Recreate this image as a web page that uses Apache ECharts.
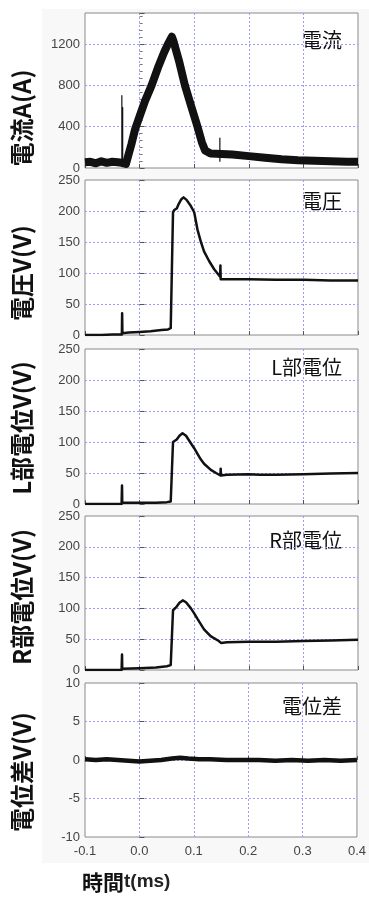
<!DOCTYPE html>
<html>
<head>
<meta charset="utf-8">
<script src="https://cdn.jsdelivr.net/npm/echarts@6/dist/echarts.min.js"></script>
<style>
  html, body { margin: 0; padding: 0; background: #fff; }
  #main { width: 369px; height: 899px; }
</style>
</head>
<body>
<div id="main"></div>
<script>
// time axis (ms)
var xTicks = [-0.1, 0.0, 0.1, 0.2, 0.3, 0.4];

// 電流 (A)
var currentT = [-0.1, -0.09, -0.08, -0.07, -0.06, -0.05, -0.04, -0.033, -0.025, -0.015, -0.008, 0.0, 0.01, 0.022, 0.035, 0.045, 0.051, 0.056, 0.059, 0.062, 0.065, 0.072, 0.083, 0.095, 0.106, 0.114, 0.12, 0.13, 0.15, 0.17, 0.2, 0.23, 0.26, 0.29, 0.32, 0.35, 0.38, 0.4];
var currentV = [55, 60, 45, 65, 50, 60, 55, 50, 40, 230, 380, 500, 650, 800, 990, 1120, 1190, 1240, 1270, 1230, 1170, 1040, 800, 590, 400, 250, 170, 140, 135, 130, 115, 100, 85, 75, 70, 65, 60, 60];
var currentSpikeT = [-0.0325, -0.031, 0.147];
var currentSpikeV = [700, 585, 290];

// 電圧 (V)
var voltT = [-0.1, -0.07, -0.05, -0.0325, -0.032, -0.0315, -0.02, 0.0, 0.02, 0.04, 0.052, 0.057, 0.0605, 0.0612, 0.064, 0.068, 0.072, 0.0765, 0.0805, 0.086, 0.0939, 0.1, 0.106, 0.112, 0.118, 0.1275, 0.1366, 0.1475, 0.148, 0.1485, 0.16, 0.2, 0.25, 0.3, 0.35, 0.4];
var voltV = [0, 0, 1, 1, 35, 3, 4, 5, 6, 8, 9, 11, 14, 198, 202, 204, 212, 219, 222, 218, 208, 198, 170, 151, 135, 119, 106, 94, 112, 90, 90, 90, 89, 89, 88, 88];

// L部電位 (V)
var leftT = [-0.1, -0.033, -0.0322, -0.0318, 0.0, 0.03, 0.05, 0.057, 0.0605, 0.0612, 0.064, 0.068, 0.073, 0.0786, 0.085, 0.0939, 0.1, 0.106, 0.112, 0.118, 0.1305, 0.14, 0.148, 0.1485, 0.149, 0.16, 0.2, 0.22, 0.25, 0.3, 0.35, 0.4];
var leftV = [0, 0, 30, 2, 2, 2, 3, 4, 5, 100, 102, 104, 110, 114, 110, 98, 90, 81, 72, 65, 55, 50, 46, 57, 46, 47, 48, 47, 47, 48, 49, 50];

// R部電位 (V)
var rightT = [-0.1, -0.063, -0.062, -0.061, -0.033, -0.0322, -0.0318, 0.0, 0.03, 0.05, 0.057, 0.0605, 0.0612, 0.064, 0.068, 0.073, 0.079, 0.085, 0.094, 0.1, 0.106, 0.118, 0.13, 0.145, 0.149, 0.16, 0.2, 0.25, 0.3, 0.35, 0.4];
var rightV = [0, 0, 2, 0, 0, 25, 2, 3, 4, 6, 8, 10, 97, 100, 103, 109, 113, 110, 100, 92, 83, 66, 55, 47, 44, 45, 46, 46, 47, 48, 49];

// 電位差 (V)
var diffT = [-0.1, -0.08, -0.06, -0.04, -0.02, 0.0, 0.02, 0.04, 0.06, 0.075, 0.09, 0.11, 0.13, 0.16, 0.19, 0.22, 0.25, 0.28, 0.31, 0.34, 0.37, 0.4];
var diffV = [0.1, 0.0, 0.1, 0.0, -0.1, -0.2, -0.1, 0.0, 0.2, 0.3, 0.2, 0.1, 0.1, 0.0, 0.0, 0.0, -0.1, 0.0, -0.1, 0.0, -0.1, 0.0];

var panelNames = ['電流', '電圧', 'L部電位', 'R部電位', '電位差'];
var yTitles = ['電流A(A)', '電圧V(V)', 'L部電位V(V)', 'R部電位V(V)', '電位差V(V)'];
var yMin = [0, 0, 0, 0, -10];
var yMax = [1500, 250, 250, 250, 10];
var yStep = [400, 50, 50, 50, 5];

function zip(t, v) {
  return t.map(function (x, i) { return [x, v[i]]; });
}

var spikeData = [];
currentSpikeT.forEach(function (t, i) {
  spikeData.push([t, 60], [t, currentSpikeV[i]], [t, 60], [t, '-']);
});

var tops = [13, 180, 349, 516, 683];
var heights = [155, 155, 155, 154, 154];
var nameY = [40, 201, 367, 540, 706];
var titleY = [118, 273, 428, 597, 772];

var grids = [], xAxes = [], yAxes = [], graphics = [];

graphics.push({
  type: 'rect', z: -10,
  shape: { x: 42, y: 9, width: 327, height: 854 },
  style: { fill: '#f8f8f8' }
});

for (var i = 0; i < 5; i++) {
  grids.push({
    left: 85, right: 11, top: tops[i], height: heights[i],
    show: true, backgroundColor: '#fff', borderColor: '#8a8a8a', borderWidth: 1
  });
  xAxes.push({
    type: 'value', gridIndex: i, min: -0.1, max: 0.4, interval: 0.1,
    axisLine: { show: false },
    axisTick: { show: true, inside: true, length: 4, lineStyle: { color: '#555' } },
    axisLabel: {
      show: i === 4, margin: 8, fontSize: 13, color: '#444',
      fontFamily: 'Liberation Sans',
      formatter: function (v) { return v.toFixed(1); }
    },
    splitLine: {
      show: true, showMinLine: false, showMaxLine: false,
      lineStyle: { color: '#9a9aff', type: [2, 2], width: 1 }
    }
  });
  yAxes.push({
    type: 'value', gridIndex: i, min: yMin[i], max: yMax[i], interval: yStep[i],
    axisLine: { show: false },
    axisTick: { show: true, inside: true, length: 5, lineStyle: { color: '#555' } },
    minorTick: { show: i === 0, splitNumber: 6, length: 3, lineStyle: { color: '#777' } },
    axisLabel: {
      margin: 5, fontSize: 13, color: '#444', fontFamily: 'Liberation Sans',
      showMaxLabel: i !== 0,
      formatter: function (v) { return String(v); }
    },
    splitLine: {
      show: true, showMinLine: false, showMaxLine: false,
      lineStyle: { color: '#9a9aff', type: [2, 2], width: 1 }
    }
  });
  graphics.push({
    type: 'text', x: 342, y: nameY[i],
    style: {
      text: panelNames[i], font: '20px "Noto Sans CJK JP"', fill: '#111',
      align: 'right', verticalAlign: 'middle'
    }
  });
  graphics.push({
    type: 'text', x: 22, y: titleY[i], rotation: Math.PI / 2,
    style: {
      text: yTitles[i], font: 'bold 24px "Noto Sans CJK JP"', fill: '#111',
      align: 'center', verticalAlign: 'middle'
    }
  });
}

graphics.push({
  type: 'text', x: 82, y: 882,
  style: {
    text: '{a|時間}{b|t(ms)}',
    rich: {
      a: { fontSize: 21, fontWeight: 'bold', fontFamily: 'Noto Sans CJK JP', fill: '#111', color: '#111' },
      b: { fontSize: 19, fontWeight: 'bold', fontFamily: 'Liberation Sans', fill: '#222', color: '#222' }
    },
    verticalAlign: 'middle'
  }
});

function lineSeries(idx, data, width) {
  return {
    type: 'line', xAxisIndex: idx, yAxisIndex: idx, data: data,
    showSymbol: false, symbol: 'none', silent: true,
    lineStyle: { color: '#111', width: width, join: 'round' }
  };
}

var option = {
  animation: false,
  backgroundColor: '#fff',
  grid: grids,
  xAxis: xAxes,
  yAxis: yAxes,
  graphic: graphics,
  series: [
    lineSeries(0, zip(currentT, currentV), 8),
    lineSeries(0, spikeData, 1.2),
    lineSeries(1, zip(voltT, voltV), 2.5),
    lineSeries(2, zip(leftT, leftV), 2.5),
    lineSeries(3, zip(rightT, rightV), 2.5),
    lineSeries(4, zip(diffT, diffV), 4.5)
  ]
};

var myChart = echarts.init(document.getElementById('main'), null, { renderer: 'canvas' });
myChart.setOption(option);
window.addEventListener('resize', myChart.resize);
</script>
</body>
</html>
